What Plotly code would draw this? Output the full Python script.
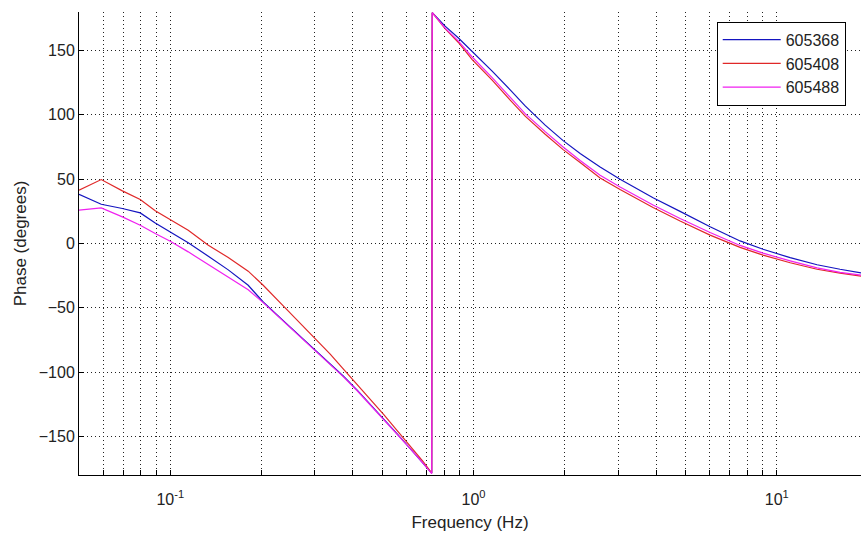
import math
import plotly.graph_objects as go

# Frequency points (Hz) shared by all three measurements
freq_hz = [0.050, 0.0545, 0.0592, 0.0695, 0.0796, 0.0892, 0.100, 0.1146, 0.1335,
           0.1553, 0.1807, 0.2025, 0.2358, 0.2683, 0.2960, 0.3368, 0.3718, 0.4134,
           0.4563, 0.5076, 0.5601, 0.6184, 0.6823, 0.728,
           0.731, 0.806, 0.890, 0.990, 1.152, 1.321, 1.480, 1.723, 1.975, 2.247,
           2.615, 3.043, 3.543, 3.909, 4.800, 6.028, 7.568, 9.01, 11.07, 13.58,
           16.17, 18.96]

phase_605368 = [38.3, 34.0, 30.5, 27.2, 23.8, 16.0, 9.0, 0.5, -9.9,
                -20.5, -32.5, -45.5, -60.0, -72.0, -81.5, -93.5, -103.0, -114.0,
                -125.0, -136.5, -148.0, -159.5, -171.0, -178.5,
                179.5, 169.0, 160.0, 149.5, 134.0, 119.5, 107.0, 92.0, 80.0, 70.0,
                59.5, 50.0, 41.5, 35.5, 25.0, 13.0, 2.0, -4.5, -11.0, -16.5,
                -20.0, -22.8]

phase_605408 = [41.4, 45.5, 49.7, 40.9, 34.2, 25.4, 18.6, 10.3, -1.3,
                -10.9, -21.5, -32.5, -48.5, -62.0, -72.5, -86.0, -97.5, -109.5,
                -121.0, -133.5, -145.5, -157.5, -169.5, -178.5,
                179.5, 167.0, 156.5, 143.0, 127.0, 111.5, 99.0, 85.0, 73.0, 63.0,
                51.0, 42.0, 33.5, 28.0, 17.5, 6.5, -3.0, -9.0, -15.0, -20.0,
                -23.0, -25.4]

phase_605488 = [25.9, 27.0, 27.7, 20.7, 14.2, 7.8, 1.8, -6.5, -16.3,
                -26.4, -36.0, -46.0, -60.5, -72.5, -82.0, -94.0, -103.5, -114.5,
                -125.5, -137.0, -148.0, -159.5, -171.0, -179.0,
                179.5, 167.5, 157.5, 145.0, 129.0, 113.5, 101.0, 87.0, 75.0, 64.5,
                53.0, 44.0, 35.5, 30.0, 19.5, 8.5, -1.5, -7.5, -13.5, -19.0,
                -22.5, -24.6]

series_names = ["605368", "605408", "605488"]
series_colors = ["#1414c0", "#e02828", "#f020f0"]

y_ticks = [-150, -100, -50, 0, 50, 100, 150]
x_major = [0.1, 1, 10]
x_major_text = ["10<sup>-1</sup>", "10<sup>0</sup>", "10<sup>1</sup>"]
x_minor = [0.05, 0.06, 0.07, 0.08, 0.09, 0.2, 0.3, 0.4, 0.5, 0.6, 0.7, 0.8, 0.9,
           2, 3, 4, 5, 6, 7, 8, 9, 20]

fig = go.Figure()
for name, color, vals in zip(series_names, series_colors,
                             [phase_605368, phase_605408, phase_605488]):
    fig.add_trace(go.Scatter(x=freq_hz, y=vals, mode="lines", name=name,
                             line=dict(color=color, width=1.2)))

font_main = "Arial, Liberation Sans, sans-serif"
grid_style = dict(showgrid=True, gridcolor="#222", griddash="1px,3px", gridwidth=1)
fig.update_layout(
    width=861, height=534,
    margin=dict(l=79, r=0, t=12, b=59),
    paper_bgcolor="white", plot_bgcolor="white",
    font=dict(family=font_main, size=16, color="#222"),
    showlegend=True,
    legend=dict(x=0.8155, y=0.979, xanchor="left", yanchor="top",
                bgcolor="white", bordercolor="black", borderwidth=1,
                font=dict(size=16, color="#222"), itemwidth=58,
                tracegroupgap=0),
)
fig.update_xaxes(
    type="log", range=[math.log10(0.05), math.log10(18.96)],
    tickvals=x_major, ticktext=x_major_text,
    ticks="inside", ticklen=5, tickcolor="black",
    minor=dict(tickvals=x_minor, ticks="inside", ticklen=5, tickcolor="black",
               **grid_style),
    **grid_style,
    showline=True, linecolor="black", linewidth=1, mirror=False,
    zeroline=False, automargin=False,
    title=dict(text="Frequency (Hz)", font=dict(size=17), standoff=8),
    tickfont=dict(size=16), ticklabelstandoff=10,
)
fig.update_yaxes(
    range=[-180, 180], tickvals=y_ticks,
    ticks="inside", ticklen=5, tickcolor="black",
    **grid_style,
    showline=True, linecolor="black", linewidth=1, mirror=False,
    zeroline=False, automargin=False,
    title=dict(text="Phase (degrees)", font=dict(size=17), standoff=7),
    tickfont=dict(size=16), ticklabelstandoff=0,
)

fig.write_html("out.html", config={"displayModeBar": False},
               post_script="document.body.style.margin='0';document.body.style.padding='0';")
